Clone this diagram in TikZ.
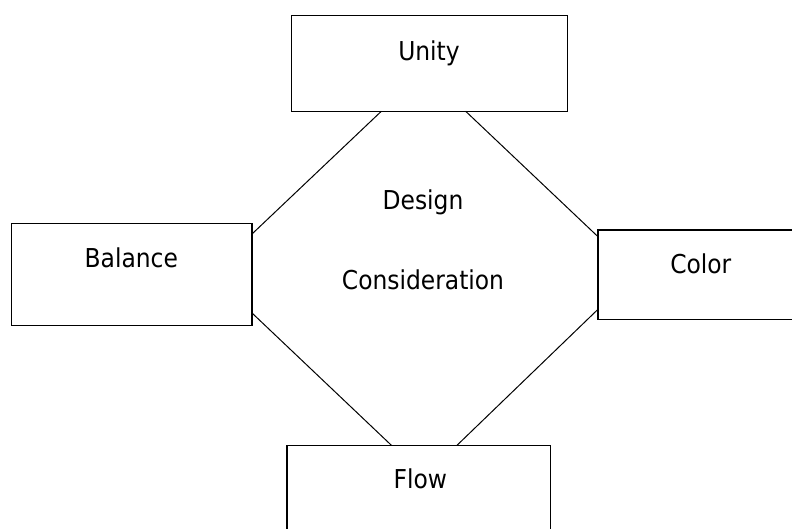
\documentclass[tikz,border=0pt]{standalone}
\usepackage{fontspec}
\setmainfont{DejaVu Sans Condensed}
\usetikzlibrary{calc}
\begin{document}
\begin{tikzpicture}[x=1pt,y=-1pt,
  box/.style={draw=black,line width=1.2pt,inner sep=0pt,outer sep=0pt},
  lbl/.style={inner sep=0pt,font=\fontsize{26}{30}\selectfont},
  conn/.style={draw=black,line width=1pt}]
\useasboundingbox (0,0) rectangle (792,529);
\clip (0,0) rectangle (792,529);
\node[box,minimum width=275.8pt,minimum height=95.4pt] (unity) at (429.3,63.6) {};
\node[box,minimum width=240.9pt,minimum height=101.9pt] (balance) at (131.55,274.65) {};
\node[box,minimum width=202pt,minimum height=89.8pt] (color) at (699,274.9) {};
\node[box,minimum width=263.6pt,minimum height=94.7pt] (flow) at (418.7,492.65) {};
\node[lbl] (tunity) at (429,53) {Unity};
\node[lbl] (tbalance) at (131.3,258) {Balance};
\node[lbl] (tcolor) at (700.8,264) {Color};
\node[lbl] (tflow) at (420.3,479) {Flow};
\node[lbl] (tdesign) at (423,202.4) {Design};
\node[lbl] (tcons) at (423,279.4) {Consideration};
\draw[conn] ($(unity.south west)+(89.9,0)$) -- ($(balance.north east)+(0,10.3)$);
\draw[conn] ($(unity.south west)+(174.3,0)$) -- ($(color.north west)+(0,6.7)$);
\draw[conn] ($(balance.north east)+(0,89.3)$) -- ($(flow.north west)+(104.5,0)$);
\draw[conn] ($(color.north west)+(0,79.3)$) -- ($(flow.north west)+(170.1,0)$);
\end{tikzpicture}
\end{document}
